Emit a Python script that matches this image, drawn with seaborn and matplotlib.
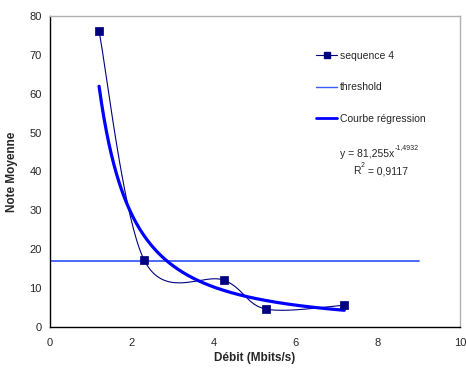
import numpy as np
import pandas as pd
import matplotlib
matplotlib.use("Agg")
import matplotlib.pyplot as plt
import seaborn as sns
from matplotlib.lines import Line2D

# data
debit = [1.2, 2.3, 4.25, 5.27, 7.18]
note = [76.0, 17.2, 12.0, 4.6, 5.6]
threshold_x = [0.0, 9.0]
threshold_y = [17.0, 17.0]
coef_a = 81.255
coef_b = -1.4932
r2 = 0.9117

sns.set_style("white")
plt.rcParams['font.family'] = ['Liberation Sans', 'DejaVu Sans']

fig = plt.figure(figsize=(4.66, 3.69), dpi=100)
ax = fig.add_axes([0.107, 0.114, 0.88, 0.843])

# smoothed line like Excel (bezier through points, computed in screen-ish units)
sx, sy = 41.0, 3.89
P = np.column_stack([np.array(debit) * sx, np.array(note) * sy])
Pext = np.vstack([P[0], P, P[-1]])
curve = []
t = np.linspace(0, 1, 40)
for i in range(len(P) - 1):
    p0, p1, p2, p3 = Pext[i], Pext[i + 1], Pext[i + 2], Pext[i + 3]
    c1 = p1 + (p2 - p0) / 6
    c2 = p2 - (p3 - p1) / 6
    seg = ((1 - t) ** 3)[:, None] * p1 + (3 * (1 - t) ** 2 * t)[:, None] * c1 \
        + (3 * (1 - t) * t ** 2)[:, None] * c2 + (t ** 3)[:, None] * p2
    curve.append(seg)
curve = np.vstack(curve)
smooth = pd.DataFrame({"x": curve[:, 0] / sx, "y": curve[:, 1] / sy})

sns.lineplot(data=smooth, x="x", y="y", sort=False, color="#000080", lw=0.8, ax=ax)
sns.scatterplot(x=debit, y=note, marker="s", s=40, color="#000080", edgecolor="#000080", ax=ax, zorder=5)
sns.lineplot(x=threshold_x, y=threshold_y, color="#3a5ef5", lw=1.3, ax=ax)

xr = np.linspace(min(debit), max(debit), 200)
sns.lineplot(x=xr, y=coef_a * xr ** coef_b, color="#0000ff", lw=2.3, ax=ax)

ax.set_xlim(0, 10)
ax.set_ylim(0, 80)
ax.set_xticks(range(0, 11, 2))
ax.set_yticks(range(0, 81, 10))
ax.tick_params(axis="both", labelsize=8, length=3, width=0.8, direction="out", color="black", pad=3)
ax.tick_params(axis="x", pad=5)
for s in ["left", "bottom"]:
    ax.spines[s].set_color("black")
    ax.spines[s].set_linewidth(1.0)
for s in ["top", "right"]:
    ax.spines[s].set_color("#b0b0b0")
    ax.spines[s].set_linewidth(1.0)

ax.set_xlabel("Débit (Mbits/s)", fontsize=8.5, fontweight="bold", labelpad=3)
ax.set_ylabel("Note Moyenne", fontsize=8.5, fontweight="bold", labelpad=8)

handles = [
    Line2D([], [], color="#000080", lw=0.8, marker="s", markersize=5),
    Line2D([], [], color="#3a5ef5", lw=1.0),
    Line2D([], [], color="#0000ff", lw=2.0),
]
ax.legend(handles, ["sequence 4", "threshold", "Courbe régression"], loc="upper left",
          bbox_to_anchor=(0.64, 0.90), frameon=False, fontsize=7.5, labelspacing=2.05,
          handlelength=2.0, handletextpad=0.25, borderaxespad=0)

# trend line equation, superscripts as small offset texts
t1 = ax.text(7.08, 44.5, "y = %s" % f"{coef_a:.3f}".replace(".", ",") + "x",
             fontsize=7.5, ha="left", va="center")
ax.annotate(f"{coef_b:.4f}".replace(".", ","), xy=(1, 0.75), xycoords=t1,
            fontsize=5, ha="left", va="bottom")
t2 = ax.text(7.4, 40.0, "R", fontsize=7.5, ha="left", va="center")
ax.annotate("2", xy=(1, 0.7), xycoords=t2, fontsize=5, ha="left", va="bottom")
ax.annotate(" = " + f"{r2:.4f}".replace(".", ","), xy=(1, 0), xycoords=t2,
            xytext=(2.8, 0), textcoords="offset points",
            fontsize=7.5, ha="left", va="bottom")

fig.savefig("out.png", dpi=100)
